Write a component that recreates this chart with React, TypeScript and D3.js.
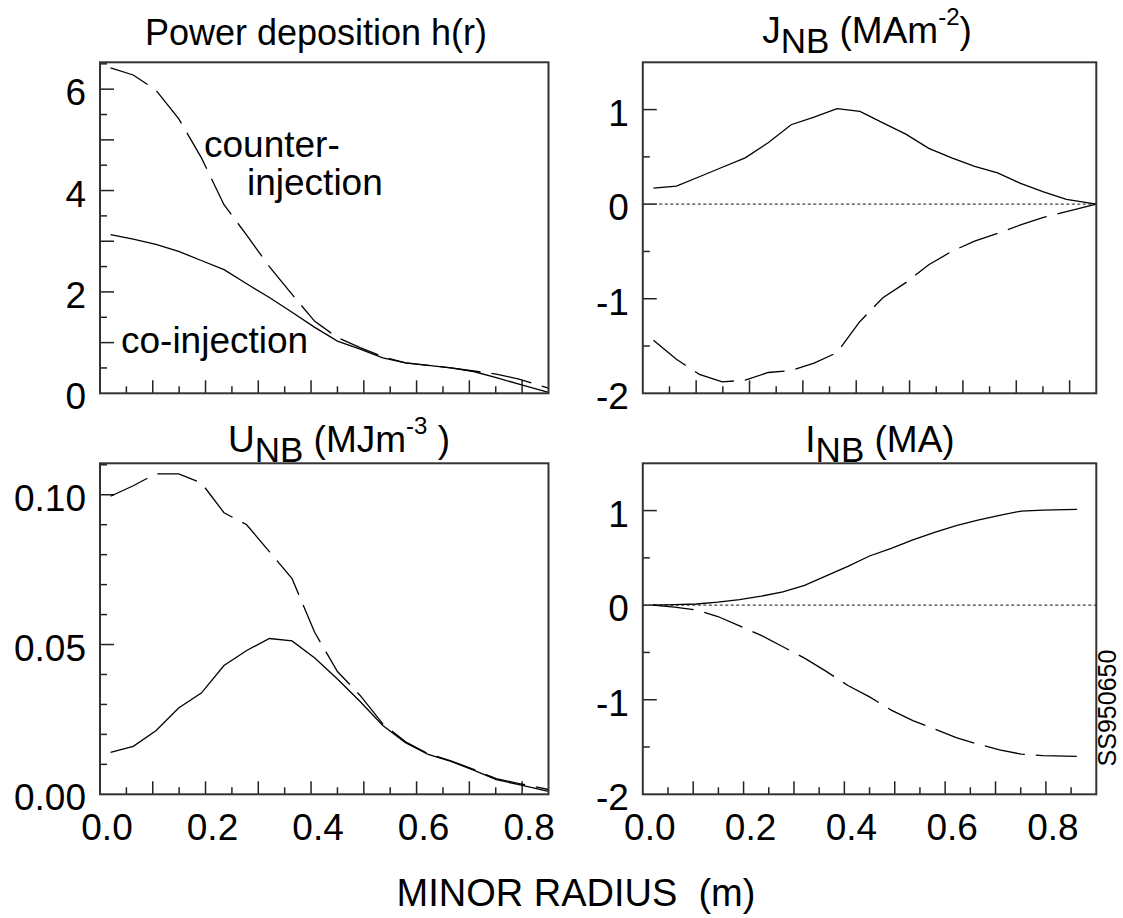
import React from 'react';
import * as d3 from 'd3';

// minor radius grid (m) shared by the profiles
const radius = [0.02, 0.063, 0.106, 0.149, 0.192, 0.235, 0.278, 0.321, 0.364, 0.407, 0.45, 0.493, 0.536, 0.579, 0.622, 0.665, 0.708, 0.751, 0.794, 0.85];
const radiusI = [0.02, 0.063, 0.106, 0.149, 0.192, 0.235, 0.278, 0.321, 0.364, 0.407, 0.45, 0.493, 0.536, 0.579, 0.622, 0.665, 0.708, 0.751, 0.794, 0.862];

// power deposition h(r)
const hCo = [3.13, 3.04, 2.94, 2.8, 2.62, 2.44, 2.16, 1.89, 1.6, 1.3, 1.03, 0.87, 0.7, 0.6, 0.55, 0.5, 0.43, 0.31, 0.18, 0.02];
const hCounter = [6.42, 6.28, 5.98, 5.42, 4.65, 3.72, 3.12, 2.5, 1.95, 1.42, 1.1, 0.9, 0.72, 0.6, 0.55, 0.5, 0.44, 0.38, 0.28, 0.1];

// J_NB (MA m^-2)
const jCo = [0.17, 0.19, 0.29, 0.39, 0.49, 0.65, 0.84, 0.92, 1.01, 0.98, 0.86, 0.74, 0.59, 0.49, 0.4, 0.33, 0.22, 0.13, 0.05, 0.0];
const jCounter = [-1.44, -1.64, -1.8, -1.88, -1.86, -1.78, -1.76, -1.68, -1.57, -1.24, -0.99, -0.83, -0.64, -0.5, -0.39, -0.31, -0.22, -0.14, -0.08, 0.0];

// U_NB (MJ m^-3)
const uCo = [0.014, 0.016, 0.0212, 0.0288, 0.0338, 0.043, 0.048, 0.052, 0.0512, 0.0455, 0.0385, 0.031, 0.023, 0.0172, 0.0133, 0.011, 0.0081, 0.0049, 0.0032, 0.001];
const uCounter = [0.0995, 0.103, 0.107, 0.107, 0.104, 0.094, 0.09, 0.081, 0.072, 0.054, 0.041, 0.033, 0.0235, 0.0175, 0.0135, 0.0112, 0.0083, 0.0052, 0.0036, 0.0016];

// I_NB (MA)
const iCo = [0, 0.005, 0.012, 0.032, 0.058, 0.095, 0.14, 0.21, 0.31, 0.41, 0.52, 0.6, 0.69, 0.77, 0.84, 0.9, 0.95, 0.995, 1.005, 1.013];
const iCounter = [0, -0.02, -0.05, -0.12, -0.22, -0.32, -0.44, -0.56, -0.7, -0.85, -0.97, -1.11, -1.22, -1.31, -1.4, -1.47, -1.53, -1.575, -1.59, -1.6];

const xTickLabels = [0, 0.2, 0.4, 0.6, 0.8];
const hTickLabels = [0, 2, 4, 6];
const jTickLabels = [-2, -1, 0, 1];
const uTickLabels = [0, 0.05, 0.1];

const FONT = "'Liberation Sans', Arial, Helvetica, sans-serif";
const FS = 37;
const SUB = 35;
const SUP = 24;

interface Series { r: number[]; v: number[]; dashed: boolean; }

interface PanelProps {
  x0: number; x1: number; y0: number; y1: number;
  xMax: number;
  yDomain: [number, number];
  minorStep: number;
  majorStep: number;
  labels: number[];
  fmt: (v: number) => string;
  series: Series[];
  zero?: boolean;
  showX?: boolean;
}

const Panel: React.FC<PanelProps> = (p) => {
  const x = d3.scaleLinear().domain([0, p.xMax]).range([p.x0, p.x1]);
  const y = d3.scaleLinear().domain(p.yDomain).range([p.y1, p.y0]);
  const line = d3.line<[number, number]>().x(d => x(d[0])).y(d => y(d[1]));

  const isMult = (v: number, s: number) => Math.abs(v / s - Math.round(v / s)) < 1e-6;
  const yTicks = d3.range(Math.ceil(p.yDomain[0] / p.minorStep) * p.minorStep, p.yDomain[1] + 1e-9, p.minorStep)
    .filter(v => v > p.yDomain[0] + 1e-9 && v < p.yDomain[1] - 1e-9);
  const xTicks = d3.range(0.05, p.xMax - 1e-9, 0.05);

  return (
    <g>
      {yTicks.map((v, i) => (
        <line key={'yt' + i} x1={p.x0} x2={p.x0 + (isMult(v, p.majorStep) ? 14 : 7)} y1={y(v)} y2={y(v)} stroke="#222" strokeWidth={1.5} />
      ))}
      {xTicks.map((v, i) => (
        <line key={'xt' + i} x1={x(v)} x2={x(v)} y1={p.y1} y2={p.y1 - (isMult(v, 0.1) ? 13 : 7)} stroke="#222" strokeWidth={1.5} />
      ))}
      {p.labels.map((v, i) => (
        <text key={'yl' + i} x={p.x0 - 14} y={y(v) + 16} textAnchor="end" fontSize={FS} fontFamily={FONT} fill="#000">{p.fmt(v)}</text>
      ))}
      {p.showX && xTickLabels.map((v, i) => (
        <text key={'xl' + i} x={x(v) + 7} y={840} textAnchor="middle" fontSize={FS} fontFamily={FONT} fill="#000">{v.toFixed(1)}</text>
      ))}
      {p.zero && (
        <line x1={p.x0} x2={p.x1} y1={y(0)} y2={y(0)} stroke="#444" strokeWidth={1.2} strokeDasharray="3,2.5" />
      )}
      {p.series.map((s, i) => (
        <path key={'s' + i} d={line(s.r.map((r, k) => [r, s.v[k]] as [number, number])) || ''} fill="none" stroke="#000" strokeWidth={1.3}
          strokeDasharray={s.dashed ? '41,11' : undefined} />
      ))}
      <rect x={p.x0} y={p.y0} width={p.x1 - p.x0} height={p.y1 - p.y0} fill="none" stroke="#333" strokeWidth={2} />
    </g>
  );
};

const L = { x0: 100, x1: 548.5 };
const R = { x0: 642.8, x1: 1096.3 };
const TOP = { y0: 62.3, y1: 393.3 };
const BOT = { y0: 463.3, y1: 794.3 };

export default function App() {
  const fmtInt = (v: number) => String(v);
  return (
    <div style={{ position: 'absolute', left: 0, top: 0 }}>
      <svg width={1123} height={918} style={{ display: 'block', background: '#fff' }}>
        <rect width={1123} height={918} fill="#fff" />
        <Panel {...L} {...TOP} xMax={0.85} yDomain={[0, 6.53]} minorStep={0.5} majorStep={1} labels={hTickLabels} fmt={fmtInt}
          series={[{ r: radius, v: hCo, dashed: false }, { r: radius, v: hCounter, dashed: true }]} />
        <Panel {...R} {...TOP} xMax={0.85} yDomain={[-2, 1.5]} minorStep={0.5} majorStep={1} labels={jTickLabels} fmt={fmtInt} zero
          series={[{ r: radius, v: jCo, dashed: false }, { r: radius, v: jCounter, dashed: true }]} />
        <Panel {...L} {...BOT} xMax={0.85} yDomain={[0, 0.1105]} minorStep={0.01} majorStep={0.05} labels={uTickLabels} fmt={(v) => v.toFixed(2)} showX
          series={[{ r: radius, v: uCo, dashed: false }, { r: radius, v: uCounter, dashed: true }]} />
        <Panel {...R} {...BOT} xMax={0.9} yDomain={[-2, 1.5]} minorStep={0.5} majorStep={1} labels={jTickLabels} fmt={fmtInt} zero showX
          series={[{ r: radiusI, v: iCo, dashed: false }, { r: radiusI, v: iCounter, dashed: true }]} />

        <g fontFamily={FONT} fill="#000" fontSize={FS}>
          <text x={316} y={45} textAnchor="middle" fontSize={36}>Power deposition h(r)</text>
          <text x={867} y={43} textAnchor="middle">
            <tspan>J</tspan><tspan dy={10} fontSize={SUB}>NB</tspan><tspan dy={-10}> (MAm</tspan><tspan dy={-18} fontSize={SUP}>-2</tspan><tspan dy={18}>)</tspan>
          </text>
          <text x={339} y={452} textAnchor="middle">
            <tspan>U</tspan><tspan dy={10} fontSize={SUB}>NB</tspan><tspan dy={-10}> (MJm</tspan><tspan dy={-18} fontSize={SUP}>-3</tspan><tspan dy={18}>{'\u00a0)'}</tspan>
          </text>
          <text x={880} y={452} textAnchor="middle">
            <tspan>I</tspan><tspan dy={10} fontSize={SUB}>NB</tspan><tspan dy={-10}> (MA)</tspan>
          </text>

          <text x={204} y={157}>counter-</text>
          <text x={247} y={195}>injection</text>
          <text x={121} y={353}>co-injection</text>

          <text x={576} y={906} textAnchor="middle" fontSize={38}>{'MINOR RADIUS\u00a0\u00a0(m)'}</text>
          <text transform="translate(1116,708) rotate(-90)" textAnchor="middle" fontSize={25}>SS950650</text>
        </g>
      </svg>
    </div>
  );
}
